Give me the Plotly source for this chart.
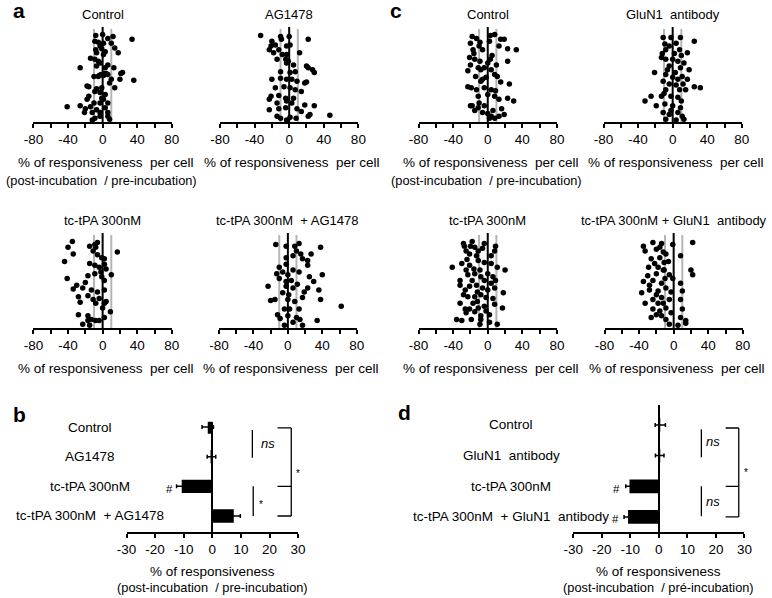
import plotly.graph_objects as go

W, H = 772, 598
FONT = "Liberation Sans, Arial, sans-serif"
NB = "\u00a0"

# ---------------- data: per-cell responsiveness (x = %, y = cell rank position) -------------
a_control = [(-8,91),(0,92),(6,88),(12,90),(34,87),(-9,85),(-5,84),(1,83),(-3,80),(10,83),(14,78),(-8,76),(-1,77),(3,74),(18,73),(-7,73),(1,71),(-14,67),(-9,66),(-5,64),(-3,62),(6,60),(-26,57),(-7,59),(3,57),(13,57),(23,52),(21,51),(-10,48),(-5,48),(1,49),(6,50),(10,45),(20,45),(36,44),(8,41),(-18,38),(-16,37),(-7,35),(-1,36),(14,36),(-9,32),(-3,31),(3,29),(-16,27),(-1,25),(1,24),(-18,24),(-10,20),(-3,20),(6,20),(-41,16),(-26,17),(-20,14),(-14,16),(-7,13),(3,15),(-21,10),(-12,10),(-3,10),(6,10),(-9,4),(-3,6),(6,6),(8,3),(-12,2),(-4,49),(-2,50),(2,51),(4,51)]
a_ag1478 = [(-33,91),(-20,85),(-10,90),(-9,87),(0,90),(22,87),(-21,80),(-16,81),(-12,76),(-3,80),(1,81),(-23,76),(-18,73),(-8,71),(-3,71),(12,73),(-14,66),(-4,66),(-3,62),(-1,64),(5,60),(20,59),(22,57),(27,55),(29,52),(-10,53),(1,52),(7,53),(-20,45),(-10,46),(-3,45),(3,45),(9,43),(18,41),(20,42),(-16,36),(-6,37),(1,36),(7,34),(14,32),(-21,27),(-12,28),(-4,25),(5,25),(-23,24),(-14,20),(-3,22),(3,20),(18,18),(29,17),(-23,13),(-12,14),(-4,15),(9,14),(14,11),(24,8),(-14,6),(-10,4),(1,5),(8,4),(22,6),(47,7),(-3,2)]
a_tpa = [(-35,91),(-40,85),(-34,78),(-15,86),(-9,88),(-6,90),(-8,85),(-11,81),(-6,77),(-1,74),(2,73),(17,80),(-44,70),(-15,68),(-9,66),(-4,64),(2,67),(4,62),(-17,55),(-9,57),(-2,59),(-1,54),(10,56),(-41,52),(2,50),(-20,48),(-30,45),(-34,41),(-23,42),(-13,40),(-6,38),(2,40),(-28,33),(-17,34),(-11,30),(-4,31),(2,26),(4,28),(-26,27),(-8,26),(0,21),(9,17),(-28,14),(-17,13),(-13,9),(-8,8),(2,11),(-23,4),(-15,3),(-17,8),(-4,8)]
a_tpa_ag1478 = [(-14,88),(-2,86),(8,86),(13,89),(38,85),(10,81),(15,78),(6,76),(27,78),(-2,74),(17,73),(23,71),(23,66),(-10,64),(-2,67),(6,61),(-13,57),(-6,59),(0,56),(13,59),(25,54),(40,56),(-10,52),(-2,49),(4,50),(11,46),(30,49),(-23,44),(-2,44),(6,42),(23,42),(19,38),(36,40),(-6,37),(1,35),(17,32),(-20,29),(-15,30),(0,30),(8,28),(38,30),(-4,20),(2,20),(13,20),(62,23),(-12,14),(-9,10),(0,13),(10,11),(14,9),(34,8),(-4,3),(17,3),(6,6)]
c_control = [(-18,90),(-13,88),(3,91),(8,92),(15,87),(19,87),(-20,83),(-9,84),(2,85),(13,80),(23,77),(33,76),(-17,76),(-6,76),(-21,68),(-15,66),(-9,64),(0,62),(3,66),(23,64),(-23,54),(-11,57),(-8,55),(-4,57),(4,55),(8,50),(11,48),(-2,47),(-8,43),(-6,45),(-23,37),(-19,36),(-13,34),(-4,36),(4,34),(9,33),(25,40),(-11,27),(0,29),(8,27),(13,24),(23,25),(30,22),(-18,17),(-11,15),(-4,17),(6,12),(-15,12),(-6,10),(4,6),(13,6),(19,8),(2,4),(8,4),(-20,17),(-16,72),(-10,80),(5,70),(-20,60),(10,60),(-14,48),(15,42),(-10,20),(16,14),(0,9)]
c_glun1 = [(-11,89),(-2,89),(9,89),(25,85),(-9,82),(-4,80),(4,83),(8,76),(17,73),(-8,76),(-13,68),(-8,66),(0,66),(6,64),(13,62),(-4,59),(9,57),(19,55),(-21,52),(-8,50),(0,47),(6,45),(11,48),(17,45),(-11,43),(-4,40),(4,39),(25,37),(32,36),(-8,34),(8,34),(15,34),(-13,27),(-2,27),(6,26),(-25,27),(-32,22),(-19,17),(-9,19),(0,17),(9,15),(-11,10),(-4,8),(6,10),(11,6),(-8,3),(4,2),(13,3),(-12,72),(2,72),(10,70),(-6,55),(3,52),(-10,30),(10,22),(-2,12),(12,40)]
c_tpa = [(-28,89),(-27,86),(-18,91),(-15,85),(-4,89),(9,86),(8,81),(-11,81),(-21,78),(-13,76),(4,76),(-41,64),(-30,68),(-21,66),(-11,71),(-4,69),(4,68),(11,64),(20,61),(-32,50),(-23,56),(-15,57),(-8,54),(0,57),(6,54),(9,50),(-32,45),(-21,44),(-13,45),(-6,42),(4,47),(18,37),(-28,35),(-23,33),(-15,33),(-8,35),(-2,32),(6,31),(-26,20),(-21,20),(-11,21),(-4,23),(8,25),(17,21),(-25,16),(-15,17),(-8,13),(2,14),(-36,9),(-30,8),(-19,9),(-8,9),(2,6),(11,4),(-9,4),(-25,81),(-9,61),(-4,50),(-17,26),(8,42),(-32,26),(-25,61),(-20,86),(-6,84),(-24,72),(-16,62),(-26,40),(-12,38),(-18,50),(0,40),(-2,18),(-12,28)]
c_tpa_glun1 = [(-35,86),(-24,90),(-14,89),(-1,88),(22,90),(-33,81),(-20,83),(-12,80),(-9,78),(8,76),(-26,73),(-16,74),(-11,69),(-29,64),(-18,64),(-11,61),(20,61),(22,56),(-20,57),(-5,56),(-35,49),(-24,50),(-14,47),(-1,52),(8,47),(-37,37),(-28,40),(-18,39),(-9,42),(-3,38),(10,39),(-33,26),(-24,30),(-12,26),(-5,30),(8,30),(-24,20),(-16,18),(-9,21),(-3,16),(10,20),(-26,11),(-14,13),(-9,9),(8,11),(14,8),(-5,4),(5,3),(14,5),(-18,26),(-12,61),(-20,35),(-16,85),(-22,68),(-10,52),(-28,45),(-14,32),(-20,14),(-6,70),(-30,55)]

ref_lines = [-10, 0, 10]
scatter_ticks = [-80, -60, -40, -20, 0, 20, 40, 60, 80]
scatter_ticklabels = ["-80", "", "-40", "", "0", "", "40", "", "80"]

# bar charts (mean ± sem)
b_categories = ["Control", "AG1478", "tc-tPA 300nM", "tc-tPA 300nM" + NB + " + AG1478"]
b_means = [-1.6, -0.3, -10.7, 7.5]
b_err = [2.0, 1.5, 1.8, 2.3]
d_categories = ["Control", "GluN1" + NB + " antibody", "tc-tPA 300nM",
                "tc-tPA 300nM" + NB + " + GluN1" + NB + " antibody"]
d_means = [0.5, 0.3, -10.3, -10.8]
d_err = [1.8, 1.5, 1.3, 1.4]
bar_ticks = [-30, -20, -10, 0, 10, 20, 30]
bar_ticklabels = ["-30", "-20", "-10", "0", "10", "20", "30"]

# ---------------- layout helpers ----------------
def fx(p): return p / W
def fy(p): return 1 - p / H

fig = go.Figure()
layout = dict(width=W, height=H, margin=dict(l=0, r=0, t=0, b=0),
              paper_bgcolor="white", plot_bgcolor="white", showlegend=False,
              font=dict(family=FONT, color="black"))
shapes, annots = [], []

def txt(x, y, s, size=13, xref="paper", yref="paper", xanchor="center", yanchor="middle", bold=False):
    annots.append(dict(x=x, y=y, xref=xref, yref=yref, text=s, showarrow=False,
                       xanchor=xanchor, yanchor=yanchor,
                       font=dict(family=FONT, size=size, color="black",
                                 weight=("bold" if bold else "normal"))))

AX_TITLE = "% of responsiveness" + NB + " per cell"
SUB_TITLE = "(post-incubation" + NB + " / pre-incubation)"

# (data, title, left px, right px, top px, bottom px)
panels = [
    (a_control, "Control", 24, 165.7, 27, 122),
    (a_ag1478, "AG1478", 215, 356.7, 27, 122),
    (c_control, "Control", 418.3, 560, 27, 122),
    (c_glun1, "GluN1" + NB + " antibody", 607.7, 749.3, 27, 122),
    (a_tpa, "tc-tPA 300nM", 24, 165.7, 233, 328),
    (a_tpa_ag1478, "tc-tPA 300nM" + NB + " + AG1478", 214, 355, 233, 328),
    (c_tpa, "tc-tPA 300nM", 418.3, 560, 233, 328),
    (c_tpa_glun1, "tc-tPA 300nM + GluN1" + NB + " antibody", 608.7, 750.3, 233, 328),
]

for i, (pts, title, l, r, t, b) in enumerate(panels, start=1):
    xs = [p[0] for p in pts]
    ys = [p[1] for p in pts]
    xa = "xaxis" if i == 1 else f"xaxis{i}"
    ya = "yaxis" if i == 1 else f"yaxis{i}"
    xr = "x" if i == 1 else f"x{i}"
    yr = "y" if i == 1 else f"y{i}"
    layout[xa] = dict(domain=[fx(l), fx(r)], range=[-80, 80], anchor=yr,
                      showline=True, linecolor="black", linewidth=1.5,
                      ticks="outside", ticklen=4, tickwidth=1.5, tickcolor="black",
                      tickvals=scatter_ticks, ticktext=scatter_ticklabels,
                      showgrid=False, zeroline=False,
                      tickfont=dict(size=13.5, family=FONT, color="black"))
    layout[ya] = dict(domain=[fy(b), fy(t)], range=[0, 100], anchor=xr, visible=False)
    for v in ref_lines:
        shapes.append(dict(type="line", xref=xr, yref=yr, x0=v, x1=v, y0=0,
                           y1=(100 if v == 0 else 98), layer="below",
                           line=dict(color=("black" if v == 0 else "#b5b5b5"), width=2)))
    fig.add_trace(go.Scatter(x=xs, y=ys, mode="markers", xaxis=xr, yaxis=yr,
                             marker=dict(size=5.5, color="black"), cliponaxis=False))
    cx = (l + r) / 2
    txt(fx(cx), fy(t - 12), title, size=13)
    txt(fx(cx + 3), fy(b + 40), AX_TITLE, size=13.5)
    if i in (1, 3):
        txt(fx(cx - 1), fy(b + 58), SUB_TITLE, size=12.8)

# ---------------- bar charts ----------------
bar_panels = [
    (9, b_categories, b_means, b_err, 119.3, 295, 421.7, 532, [3.54, -0.18], 82,
     "(post-incubation" + NB + " / pre-incubation)"),
    (10, d_categories, d_means, d_err, 576.7, 752, 405, 532, [3.49, -0.65], 513,
     "(post-incubation" + NB + " / pré-incubation)"),
]
for (k, cats, means, errs, l, r, t, b, yrng, labx, sub) in bar_panels:
    xr, yr = f"x{k}", f"y{k}"
    layout[f"xaxis{k}"] = dict(domain=[fx(l), fx(r)], range=[-30, 30], anchor=yr,
                               showline=True, linecolor="black", linewidth=1.5,
                               ticks="outside", ticklen=4, tickwidth=1.5, tickcolor="black",
                               tickvals=bar_ticks, ticktext=bar_ticklabels, showgrid=False,
                               zeroline=True, zerolinecolor="black", zerolinewidth=1.5,
                               tickfont=dict(size=13.5, family=FONT, color="black"))
    layout[f"yaxis{k}"] = dict(domain=[fy(b), fy(t)], range=yrng, anchor=xr, visible=False)
    idx = list(range(len(cats)))
    fig.add_trace(go.Bar(x=means, y=idx, orientation="h", width=0.45, xaxis=xr, yaxis=yr,
                         marker=dict(color="black", line=dict(width=0)),
                         error_x=dict(type="data", array=errs, color="black",
                                      thickness=1.5, width=2)))
    for j, c in zip(idx, cats):
        txt(fx(labx), j, c, size=13.5, yref=yr)
    cx = (l + r) / 2
    txt(fx(cx), fy(571), "% of responsiveness", size=13.5)
    txt(fx(cx), fy(587), sub, size=12.8)

def seg(k, x0, y0, x1, y1):
    shapes.append(dict(type="line", xref=f"x{k}", yref=f"y{k}", x0=x0, x1=x1, y0=y0, y1=y1,
                       line=dict(color="black", width=1.3)))

# panel b significance marks
seg(9, 14, 0.1, 14, 1.04)
seg(9, 14.3, 2.0, 14.3, 3.0)
seg(9, 27.6, 0.03, 27.6, 3.0)
for yy in (0.03, 2.0, 3.0):
    seg(9, 22.8, yy, 27.6, yy)
txt(16.3, 0.57, "<i>ns</i>", size=13, xref="x9", yref="y9", xanchor="left")
txt(15.6, 2.62, "*", size=10, xref="x9", yref="y9", xanchor="left")
txt(28.7, 1.55, "*", size=10, xref="x9", yref="y9", xanchor="left")
txt(-15.1, 2.08, "#", size=11.5, xref="x9", yref="y9")

# panel d significance marks
seg(10, 14.9, 0.14, 14.9, 1.05)
seg(10, 14.9, 2.0, 14.9, 2.98)
seg(10, 28, 0.1, 28, 3.0)
for yy in (0.1, 2.0, 3.0):
    seg(10, 23.4, yy, 28, yy)
txt(15.9, 0.54, "<i>ns</i>", size=13, xref="x10", yref="y10", xanchor="left")
txt(15.9, 2.5, "<i>ns</i>", size=13, xref="x10", yref="y10", xanchor="left")
txt(29.2, 1.56, "*", size=10, xref="x10", yref="y10", xanchor="left")
txt(-14.8, 2.08, "#", size=11.5, xref="x10", yref="y10")
txt(-15.3, 3.08, "#", size=11.5, xref="x10", yref="y10")

# panel letters
txt(fx(1), fy(11), "a", size=21, xanchor="left", bold=True)
txt(fx(1), fy(414), "b", size=21, xanchor="left", bold=True)
txt(fx(387), fy(11), "c", size=21, xanchor="left", bold=True)
txt(fx(395), fy(412), "d", size=21, xanchor="left", bold=True)

layout["shapes"] = shapes
layout["annotations"] = annots
fig.update_layout(**layout)
fig.write_html("out.html", config={"displayModeBar": False},
               post_script="document.body.style.margin='0px';document.body.style.overflow='hidden';")
